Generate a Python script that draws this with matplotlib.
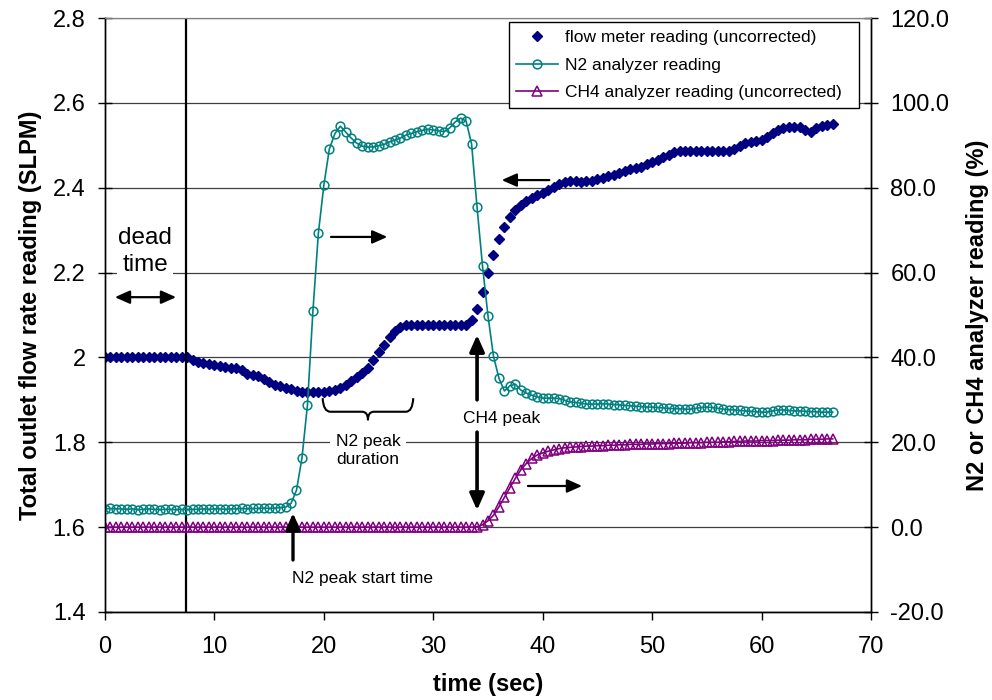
import numpy as np
import matplotlib
matplotlib.use('Agg')
import matplotlib.pyplot as plt
from matplotlib.path import Path
from matplotlib.patches import PathPatch, ArrowStyle

plt.rcParams['font.family'] = ['Liberation Sans', 'DejaVu Sans']

# sampling every 0.5 s
time_s = np.arange(0, 67, 0.5)

# flow meter reading (SLPM), left axis
flow = [
    2.000, 2.000, 2.000, 2.000, 2.000, 2.000, 2.000, 2.000, 2.000, 2.000,
    2.000, 2.000, 2.000, 2.000, 2.000, 2.000, 1.995, 1.990, 1.986, 1.985,
    1.982, 1.980, 1.978, 1.976, 1.975, 1.970, 1.962, 1.958, 1.956, 1.950,
    1.942, 1.936, 1.932, 1.928, 1.925, 1.921, 1.919, 1.918, 1.918, 1.918,
    1.919, 1.921, 1.924, 1.929, 1.936, 1.944, 1.953, 1.963, 1.976, 1.993,
    2.012, 2.030, 2.047, 2.062, 2.072, 2.076, 2.077, 2.077, 2.077, 2.077,
    2.077, 2.077, 2.077, 2.077, 2.077, 2.077, 2.077, 2.088, 2.115, 2.155,
    2.200, 2.242, 2.278, 2.307, 2.331, 2.348, 2.360, 2.369, 2.376, 2.382,
    2.388, 2.395, 2.402, 2.408, 2.413, 2.415, 2.415, 2.414, 2.415, 2.416,
    2.420, 2.424, 2.427, 2.430, 2.435, 2.440, 2.443, 2.446, 2.450, 2.455,
    2.460, 2.466, 2.472, 2.478, 2.484, 2.486, 2.486, 2.486, 2.486, 2.486,
    2.486, 2.486, 2.486, 2.486, 2.487, 2.492, 2.498, 2.505, 2.508, 2.510,
    2.513, 2.519, 2.528, 2.536, 2.541, 2.543, 2.544, 2.544, 2.537, 2.532,
    2.540, 2.545, 2.547, 2.549,
]

# N2 analyzer reading (%), right axis
n2 = [
    4.3, 4.4, 4.3, 4.3, 4.2, 4.3, 4.1, 4.2, 4.3, 4.2,
    4.1, 4.2, 4.2, 4.1, 4.2, 4.1, 4.2, 4.2, 4.3, 4.2,
    4.3, 4.3, 4.2, 4.3, 4.3, 4.4, 4.3, 4.4, 4.4, 4.5,
    4.4, 4.5, 4.6, 4.7, 5.6, 8.7, 16.3, 28.8, 50.9, 69.3,
    80.6, 89.1, 92.7, 94.5, 93.1, 91.7, 90.5, 89.8, 89.6, 89.6,
    89.9, 90.2, 90.8, 91.2, 91.7, 92.4, 92.8, 93.2, 93.5, 93.8,
    93.6, 93.4, 93.2, 94.1, 95.5, 96.4, 95.7, 90.3, 75.4, 61.5,
    49.8, 40.3, 35.1, 32.1, 33.3, 33.7, 32.3, 31.6, 31.1, 30.7,
    30.4, 30.4, 30.4, 30.3, 29.9, 29.5, 29.4, 29.2, 29.0, 29.0,
    29.0, 29.1, 29.0, 28.9, 28.8, 28.7, 28.6, 28.5, 28.4, 28.3,
    28.3, 28.2, 28.1, 28.0, 27.9, 27.9, 27.8, 27.8, 28.0, 28.2,
    28.3, 28.2, 28.0, 27.8, 27.7, 27.6, 27.5, 27.4, 27.3, 27.2,
    27.1, 27.1, 27.4, 27.6, 27.6, 27.5, 27.4, 27.4, 27.3, 27.2,
    27.2, 27.1, 27.1, 27.1,
]

# CH4 analyzer reading (%), right axis
ch4 = [
    0.0, 0.0, 0.0, 0.0, 0.0, 0.0, 0.0, 0.0, 0.0, 0.0,
    0.0, 0.0, 0.0, 0.0, 0.0, 0.0, 0.0, 0.0, 0.0, 0.0,
    0.0, 0.0, 0.0, 0.0, 0.0, 0.0, 0.0, 0.0, 0.0, 0.0,
    0.0, 0.0, 0.0, 0.0, 0.0, 0.0, 0.0, 0.0, 0.0, 0.0,
    0.0, 0.0, 0.0, 0.0, 0.0, 0.0, 0.0, 0.0, 0.0, 0.0,
    0.0, 0.0, 0.0, 0.0, 0.0, 0.0, 0.0, 0.0, 0.0, 0.0,
    0.0, 0.0, 0.0, 0.0, 0.0, 0.0, 0.0, 0.0, 0.1, 0.6,
    1.5, 2.8, 4.8, 7.0, 9.3, 11.5, 13.5, 15.0, 16.2, 17.0,
    17.5, 17.9, 18.2, 18.5, 18.7, 18.8, 18.9, 19.0, 19.1, 19.1,
    19.2, 19.2, 19.3, 19.3, 19.4, 19.4, 19.5, 19.5, 19.5, 19.6,
    19.6, 19.7, 19.7, 19.7, 19.8, 19.8, 19.8, 19.9, 19.9, 19.9,
    20.0, 20.0, 20.0, 20.1, 20.1, 20.2, 20.2, 20.3, 20.3, 20.3,
    20.4, 20.4, 20.4, 20.5, 20.5, 20.5, 20.6, 20.6, 20.6, 20.7,
    20.7, 20.7, 20.8, 20.8,
]

left_ticks = [1.4, 1.6, 1.8, 2.0, 2.2, 2.4, 2.6, 2.8]
right_ticks = [-20, 0, 20, 40, 60, 80, 100, 120]
x_ticks = [0, 10, 20, 30, 40, 50, 60, 70]
dead_time = 7.4

navy = '#000080'
teal = '#008080'
purple = '#800080'

fig = plt.figure(figsize=(9.92, 7.0), dpi=100)
ax = fig.add_axes([105/992, 88/700, 766/992, 594/700])
ax2 = ax.twinx()

ax.plot(time_s, flow, linestyle='none', marker='D', ms=5.3, color=navy,
        label='flow meter reading (uncorrected)')
ax2.plot(time_s, n2, '-', color=teal, lw=1.2, marker='o', ms=6.3,
         mfc='none', mec=teal, mew=1.1, label='N2 analyzer reading')
ax2.plot(time_s, ch4, '-', color=purple, lw=1.2, marker='^', ms=6.5,
         mfc='none', mec=purple, mew=1.1,
         label='CH4 analyzer reading (uncorrected)')

ax.set_xlim(0, 70)
ax.set_ylim(1.4, 2.8)
ax2.set_ylim(-20, 120)
ax.set_xticks(x_ticks)
ax.set_yticks(left_ticks)
ax.set_yticklabels(['%g' % v for v in left_ticks])
ax2.set_yticks(right_ticks)
ax2.set_yticklabels(['%.1f' % v for v in right_ticks])

ax.grid(axis='y', color='#404040', lw=0.9)
ax.set_axisbelow(True)

for a in (ax, ax2):
    for s in ('left', 'right', 'bottom'):
        a.spines[s].set_color('black')
        a.spines[s].set_linewidth(1.0)
    a.spines['top'].set_color('#808080')

ax.tick_params(axis='y', direction='inout', length=10, width=1, labelsize=17, pad=9)
ax2.tick_params(axis='y', direction='inout', length=10, width=1, labelsize=17, pad=9)
ax.tick_params(axis='x', direction='out', length=6, width=1, labelsize=17, pad=11)

ax.set_xlabel('time (sec)', fontsize=17, fontweight='bold', labelpad=11)
ax.set_ylabel('Total outlet flow rate reading (SLPM)', fontsize=17,
              fontweight='bold', labelpad=8)
ax2.set_ylabel('N2 or CH4 analyzer reading (%)', fontsize=17,
               fontweight='bold', labelpad=12)

# dead time marker
ax.axvline(dead_time, color='black', lw=1.6)

T = ax.transData
head = ArrowStyle('-|>', head_length=0.45, head_width=0.2)
dbl = ArrowStyle('<|-|>', head_length=0.45, head_width=0.2)


def arrow(x0, y0, x1, y1, style=head, lw=1.6, scale=20):
    ax2.annotate('', xy=(x1, y1), xytext=(x0, y0), xycoords=T, textcoords=T,
                 arrowprops=dict(arrowstyle=style, color='black', lw=lw,
                                 mutation_scale=scale, shrinkA=0, shrinkB=0))


white = dict(facecolor='white', edgecolor='none', pad=1)
ax2.text(3.66, 2.249, 'dead\ntime', transform=T, ha='center', va='center',
         fontsize=17.5, linespacing=1.3, bbox=white)
arrow(0.9, 2.142, 6.5, 2.142, style=dbl)

arrow(20.65, 2.284, 25.8, 2.284)
arrow(40.6, 2.418, 36.25, 2.418)
arrow(38.65, 1.697, 43.6, 1.697)

# brace for N2 peak duration
bx = [19.89, 19.95, 20.6, 23.5, 24.03, 24.03, 24.03, 24.55, 27.5, 28.1, 28.17]
by = [1.904, 1.872, 1.872, 1.872, 1.872, 1.852, 1.872, 1.872, 1.872, 1.872, 1.904]
codes = [Path.MOVETO, Path.CURVE3, Path.CURVE3, Path.LINETO, Path.CURVE3,
         Path.CURVE3, Path.CURVE3, Path.CURVE3, Path.LINETO, Path.CURVE3,
         Path.CURVE3]
brace = PathPatch(Path(np.column_stack([bx, by]), codes), fill=False,
                  lw=1.5, color='black', transform=T)
ax2.add_patch(brace)
ax2.text(24.03, 1.781, 'N2 peak\nduration', transform=T, ha='center',
         va='center', fontsize=12.5, linespacing=1.2,
         bbox=dict(facecolor='white', edgecolor='none', pad=4))

# N2 peak start time
arrow(17.18, 1.5226, 17.18, 1.633, lw=2.4, scale=22)
ax2.text(23.53, 1.480, 'N2 peak start time', transform=T, ha='center',
         va='center', fontsize=12.5)

# CH4 peak
ax2.text(36.28, 1.857, 'CH4 peak', transform=T, ha='center', va='center',
         fontsize=12.5)
arrow(34.0, 1.900, 34.0, 2.053, lw=2.6, scale=22)
arrow(34.0, 1.824, 34.0, 1.640, lw=2.6, scale=22)

h1, l1 = ax.get_legend_handles_labels()
h2, l2 = ax2.get_legend_handles_labels()
leg = ax2.legend(h1 + h2, l1 + l2, loc='upper left',
                 bbox_to_anchor=(0.527, 0.85, 0.457, 0.1433), mode='expand',
                 borderaxespad=0, fontsize=12.5, frameon=True, fancybox=False,
                 framealpha=1, edgecolor='black', borderpad=0.45,
                 labelspacing=0.72, handlelength=2.4, handletextpad=0.4)
leg.get_frame().set_linewidth(1.0)

fig.savefig('out.png', dpi=100)
